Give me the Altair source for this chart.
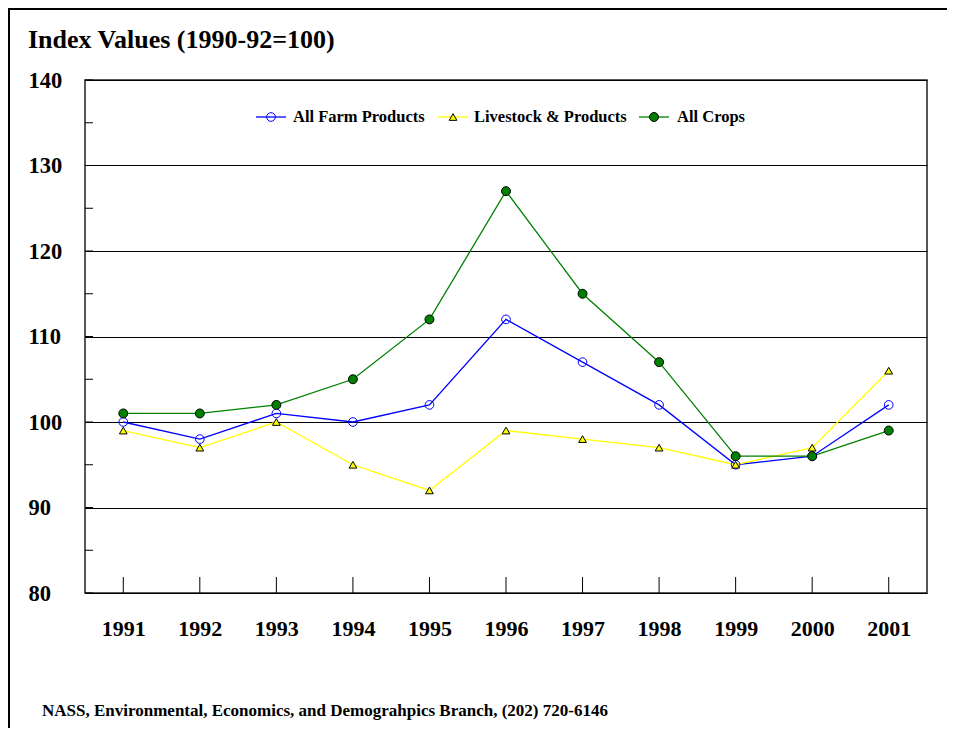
import altair as alt
import pandas as pd

# ---- data ----
years = [1991, 1992, 1993, 1994, 1995, 1996, 1997, 1998, 1999, 2000, 2001]
series_names = ["All Farm Products", "Livestock & Products", "All Crops"]
farm = [100, 98, 101, 100, 102, 112, 107, 102, 95, 96, 102]
livestock = [99, 97, 100, 95, 92, 99, 98, 97, 95, 97, 106]
crops = [101, 101, 102, 105, 112, 127, 115, 107, 96, 96, 99]
y_labels = [80, 90, 100, 110, 120, 130, 140]
y_minor = [80, 85, 90, 95, 100, 105, 110, 115, 120, 125, 130, 135, 140]
title_text = "Index Values (1990-92=100)"
footer_text = "NASS, Environmental, Economics, and Demograhpics Branch, (202) 720-6146"

# ---- styles ----
FONT = "Liberation Serif"
line_colors = ["#0000ff", "#ffff00", "#008000"]
fill_colors = ["transparent", "#ffff00", "#008000"]
stroke_colors = ["#0000ff", "#000000", "#000000"]
shapes = ["circle", "triangle-up", "circle"]
sizes = [75, 60, 80]
W, H = 842, 513

rows = []
for name, vals in zip(series_names, [farm, livestock, crops]):
    for yr, v in zip(years, vals):
        rows.append({"series": name, "year": yr, "value": v})
df = pd.DataFrame(rows)

xs = alt.Scale(domain=[1990.5, 2001.5], nice=False, zero=False)
ys = alt.Scale(domain=[80, 140], nice=False, zero=False)

x_axis = alt.Axis(
    values=years, format="d", ticks=False, tickSize=0, domain=False, grid=False,
    labelFont=FONT, labelFontSize=22, labelFontWeight="bold", labelColor="black",
    labelPadding=35, labelBaseline="middle", title=None)
y_axis = alt.Axis(
    values=y_labels, ticks=False, tickSize=0, domain=False, grid=True,
    gridColor="black", gridWidth=1, gridOpacity=1,
    labelFont=FONT, labelFontSize=22.5, labelFontWeight="bold", labelColor="black",
    labelAlign="left", labelBaseline="middle", labelPadding=57, title=None)

x_enc = alt.X("year:Q", scale=xs, axis=x_axis)
y_enc = alt.Y("value:Q", scale=ys, axis=y_axis)

base = alt.Chart(df)

layers = []
for i, name in enumerate(series_names):
    sub = base.transform_filter(alt.datum.series == name)
    layers.append(sub.mark_line(color=line_colors[i], strokeWidth=1.3).encode(
        x=x_enc, y=y_enc, order="year:Q"))
for i, name in enumerate(series_names):
    sub = base.transform_filter(alt.datum.series == name)
    layers.append(sub.mark_point(shape=shapes[i], fill=fill_colors[i], stroke=stroke_colors[i],
                                 filled=False, size=sizes[i], strokeWidth=1, opacity=1,
                                 fillOpacity=1).encode(x=x_enc, y=y_enc))

# inward y ticks
yt = alt.Chart(pd.DataFrame({"value": y_minor})).mark_rule(color="black", strokeWidth=1).encode(
    y=y_enc, x=alt.value(0), x2=alt.value(8))
# inward x ticks
xt = alt.Chart(pd.DataFrame({"year": years})).mark_rule(color="black", strokeWidth=1).encode(
    x=x_enc, y=alt.value(H), y2=alt.value(H - 16))

# legend (decoration, pixel placed)
leg_line_x = [171, 353, 554]
leg_text_x = [208, 389, 592]
leg_y = 37
legend_layers = []
one = pd.DataFrame({"k": [0]})
for i, name in enumerate(series_names):
    lx = leg_line_x[i]
    legend_layers.append(alt.Chart(one).mark_rule(color=line_colors[i], strokeWidth=1.3).encode(
        x=alt.value(lx), x2=alt.value(lx + 30), y=alt.value(leg_y)))
    legend_layers.append(alt.Chart(one).mark_point(
        shape=shapes[i], fill=fill_colors[i], stroke=stroke_colors[i], filled=False,
        size=sizes[i], strokeWidth=1, opacity=1, fillOpacity=1).encode(
        x=alt.value(lx + 15), y=alt.value(leg_y)))
    legend_layers.append(alt.Chart(pd.DataFrame({"t": [name]})).mark_text(
        align="left", baseline="middle", font=FONT, fontSize=16.5, fontWeight="bold",
        color="black").encode(x=alt.value(leg_text_x[i]), y=alt.value(leg_y), text="t:N"))

title = alt.Chart(pd.DataFrame({"t": [title_text]})).mark_text(
    align="left", baseline="middle", font=FONT, fontSize=26, fontWeight="bold", color="black"
).encode(x=alt.value(-57), y=alt.value(-40), text="t:N")
footer = alt.Chart(pd.DataFrame({"t": [footer_text]})).mark_text(
    align="left", baseline="middle", font=FONT, fontSize=17, fontWeight="bold", color="black"
).encode(x=alt.value(-43), y=alt.value(631), text="t:N")

# outer frame (top and left edges)
frame_top = alt.Chart(one).mark_rule(color="black", strokeWidth=2).encode(
    x=alt.value(-76), x2=alt.value(900), y=alt.value(-71))
frame_left = alt.Chart(one).mark_rule(color="black", strokeWidth=2).encode(
    x=alt.value(-76), y=alt.value(-72), y2=alt.value(700))

chart = alt.layer(
    *layers, yt, xt, *legend_layers, title, footer, frame_top, frame_left
).properties(
    width=W, height=H,
    padding={"left": 77, "top": 72, "right": 20, "bottom": 135},
    autosize="none",
    background="white",
).configure_view(stroke="#222222", strokeWidth=1.5)

chart.save("out.html", embed_options={"renderer": "svg", "actions": False})
